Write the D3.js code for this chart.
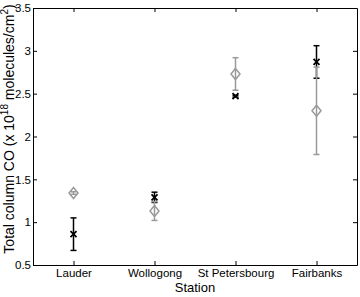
<!DOCTYPE html>
<html>
<head>
<meta charset="utf-8">
<script src="https://cdn.jsdelivr.net/npm/d3@7"></script>
<style>
body { margin: 0; background: #fff; }
svg text { font-family: "Liberation Sans", Arial, sans-serif; fill: #000; }
</style>
</head>
<body>
<div id="chartDiv"></div>
<script>
; (function () {

	var stations = ["Lauder", "Wollogong", "St Petersbourg", "Fairbanks"];
	// black crosses
	var crossVal = [0.86, 1.29, 2.47, 2.87];
	var crossErr = [0.19, 0.06, 0.01, 0.19];
	// grey diamonds
	var diamondVal = [1.34, 1.13, 2.73, 2.30];
	var diamondErr = [0.015, 0.11, 0.19, 0.51];
	var yTicks = [0.5, 1, 1.5, 2, 2.5, 3, 3.5];

	var width = 360;
	var height = 297;
	var margin = { top: 8, right: 3, bottom: 32, left: 33 };
	var chartWidth = width - margin.left - margin.right;
	var chartHeight = height - margin.top - margin.bottom;
	var grey = "#9a9a9a";

	var svg = d3.select("#chartDiv").append("svg")
		.attr("width", width)
		.attr("height", height);

	var plot = svg.append("g")
		.attr("transform", "translate(" + margin.left + "," + margin.top + ")");

	var xScale = d3.scaleLinear().domain([0.5, 4.5]).range([0, chartWidth]);
	var yScale = d3.scaleLinear().domain([0.5, 3.5]).range([chartHeight, 0]);

	// axes (ticks inside, box on)
	plot.append("g")
		.attr("transform", "translate(0," + chartHeight + ")")
		.call(d3.axisBottom(xScale).tickValues([1, 2, 3, 4]).tickFormat(function (d) { return stations[d - 1]; }).tickSizeInner(-4).tickSizeOuter(0).tickPadding(4))
		.call(function (g) { g.selectAll("text").style("font-size", "11.5px"); });

	plot.append("g")
		.call(d3.axisLeft(yScale).tickValues(yTicks).tickFormat(d3.format("")).tickSizeInner(-4).tickSizeOuter(0).tickPadding(2))
		.call(function (g) { g.selectAll("text").style("font-size", "11.5px"); });

	plot.append("g")
		.call(d3.axisTop(xScale).tickValues([1, 2, 3, 4]).tickFormat("").tickSizeInner(-4).tickSizeOuter(0));

	plot.append("g")
		.attr("transform", "translate(" + chartWidth + ",0)")
		.call(d3.axisRight(yScale).tickValues(yTicks).tickFormat("").tickSizeInner(-4).tickSizeOuter(0));

	plot.selectAll(".domain").attr("stroke", "#000");
	plot.selectAll(".tick line").attr("stroke", "#000");

	function errorBars(vals, errs, color) {
		var g = plot.append("g").attr("stroke", color).attr("stroke-width", 1.5).attr("fill", "none");
		vals.forEach(function (v, i) {
			var x = xScale(i + 1);
			var y0 = yScale(v - errs[i]);
			var y1 = yScale(v + errs[i]);
			g.append("line").attr("x1", x).attr("x2", x).attr("y1", y0).attr("y2", y1);
			g.append("line").attr("x1", x - 3).attr("x2", x + 3).attr("y1", y0).attr("y2", y0);
			g.append("line").attr("x1", x - 3).attr("x2", x + 3).attr("y1", y1).attr("y2", y1);
		});
	}

	errorBars(crossVal, crossErr, "#000");
	errorBars(diamondVal, diamondErr, grey);

	// diamonds
	plot.selectAll(".diamond").data(diamondVal).enter().append("path")
		.attr("class", "diamond")
		.attr("d", "M0,-5.5L4.5,0L0,5.5L-4.5,0Z")
		.attr("transform", function (d, i) { return "translate(" + xScale(i + 1) + "," + yScale(d) + ")"; })
		.attr("fill", "none")
		.attr("stroke", grey)
		.attr("stroke-width", 1.5);

	// crosses
	plot.selectAll(".cross").data(crossVal).enter().append("path")
		.attr("class", "cross")
		.attr("d", "M-3,-3L3,3M-3,3L3,-3")
		.attr("transform", function (d, i) { return "translate(" + xScale(i + 1) + "," + yScale(d) + ")"; })
		.attr("stroke", "#000")
		.attr("stroke-width", 1.8);

	svg.append("text")
		.attr("text-anchor", "middle")
		.style("font-size", "13px")
		.attr("x", margin.left + chartWidth / 2)
		.attr("y", 292)
		.text("Station");

	var ylab = svg.append("text")
		.attr("text-anchor", "middle")
		.style("font-size", "14px")
		.attr("transform", "translate(14,129) rotate(-90)");
	ylab.append("tspan").text("Total column CO (x 10");
	ylab.append("tspan").attr("dy", -6).style("font-size", "10px").text("18");
	ylab.append("tspan").attr("dy", 6).text(" molecules/cm");
	ylab.append("tspan").attr("dy", -6).style("font-size", "10px").text("2");
	ylab.append("tspan").attr("dy", 6).text(")");

})();
</script>
</body>
</html>
